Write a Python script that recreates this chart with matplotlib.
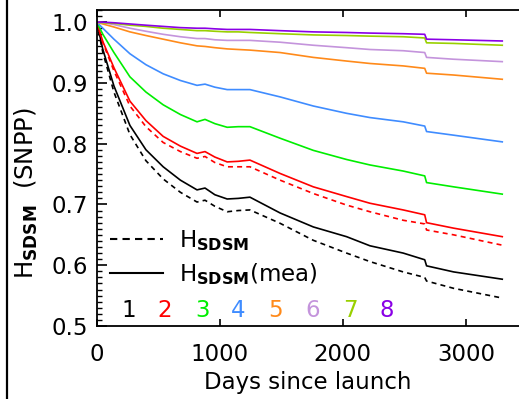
import matplotlib
matplotlib.use("Agg")
import matplotlib.pyplot as plt
from matplotlib.lines import Line2D
from matplotlib.ticker import MultipleLocator, FixedLocator

plt.rcParams['font.family'] = ['DejaVu Sans']
plt.rcParams['mathtext.fontset'] = 'dejavusans'

days = [0, 50, 140, 270, 400, 540, 680, 815, 880, 960, 1060, 1150, 1245,
        1490, 1760, 2030, 2220, 2490, 2665, 2680, 2900, 3295]

b1_mea = [1.0, 0.955, 0.895, 0.830, 0.790, 0.762, 0.740, 0.724, 0.727, 0.716, 0.709, 0.710, 0.712,
          0.686, 0.663, 0.647, 0.632, 0.620, 0.609, 0.599, 0.589, 0.577]
b1_sdsm = [1.0, 0.950, 0.885, 0.815, 0.772, 0.742, 0.720, 0.704, 0.707, 0.697, 0.688, 0.690, 0.691,
           0.669, 0.641, 0.620, 0.606, 0.589, 0.580, 0.574, 0.562, 0.546]
b2_mea = [1.0, 0.968, 0.925, 0.870, 0.838, 0.812, 0.796, 0.784, 0.787, 0.778, 0.770, 0.771, 0.773,
          0.751, 0.729, 0.713, 0.702, 0.691, 0.683, 0.670, 0.661, 0.647]
b2_sdsm = [1.0, 0.966, 0.920, 0.862, 0.828, 0.802, 0.787, 0.776, 0.779, 0.769, 0.762, 0.762, 0.762,
           0.740, 0.718, 0.699, 0.688, 0.674, 0.668, 0.658, 0.650, 0.633]
b3 = [1.0, 0.980, 0.950, 0.910, 0.885, 0.864, 0.848, 0.836, 0.840, 0.833, 0.827, 0.828, 0.828,
      0.809, 0.789, 0.774, 0.765, 0.755, 0.747, 0.736, 0.729, 0.717]
b4 = [1.0, 0.990, 0.972, 0.948, 0.930, 0.915, 0.904, 0.896, 0.898, 0.893, 0.889, 0.889, 0.889,
      0.877, 0.862, 0.850, 0.843, 0.836, 0.829, 0.820, 0.814, 0.803]
b5 = [1.0, 0.997, 0.992, 0.984, 0.978, 0.972, 0.966, 0.961, 0.960, 0.958, 0.956, 0.955, 0.954,
      0.950, 0.942, 0.936, 0.932, 0.928, 0.924, 0.916, 0.913, 0.906]
b6 = [1.0, 0.999, 0.996, 0.990, 0.985, 0.980, 0.976, 0.973, 0.973, 0.971, 0.970, 0.970, 0.970,
      0.967, 0.962, 0.958, 0.955, 0.953, 0.950, 0.942, 0.939, 0.935]
b7 = [1.0, 0.999, 0.998, 0.995, 0.993, 0.990, 0.988, 0.986, 0.986, 0.985, 0.984, 0.984, 0.983,
      0.981, 0.979, 0.978, 0.977, 0.976, 0.974, 0.966, 0.965, 0.962]
b8 = [1.0, 1.0, 0.999, 0.997, 0.995, 0.993, 0.991, 0.990, 0.990, 0.989, 0.988, 0.988, 0.988,
      0.986, 0.984, 0.983, 0.982, 0.981, 0.980, 0.972, 0.971, 0.969]

band_labels = ['1', '2', '3', '4', '5', '6', '7', '8']
colors = ['#000000', '#ff0000', '#00ee00', '#3f8cff', '#ff8a1a', '#c494dc', '#99d000', '#8a00e6']

FS = 16.5
fig = plt.figure(figsize=(5.19, 3.99), dpi=100)
ax = fig.add_axes([96.7/519, 1-326/399, 1-96.7/519, (326-10)/399])

lw = 1.2
ax.plot(days, b1_sdsm, color=colors[0], lw=lw, ls=(0, (3, 2.5)))
ax.plot(days, b1_mea, color=colors[0], lw=lw)
ax.plot(days, b2_sdsm, color=colors[1], lw=lw, ls=(0, (3, 2.5)))
ax.plot(days, b2_mea, color=colors[1], lw=lw)
for vals, c in zip([b3, b4, b5, b6, b7, b8], colors[2:]):
    ax.plot(days, vals, color=c, lw=lw)

ax.set_xlim(0, 3431)
ax.set_ylim(0.5, 1.02)
ax.spines['right'].set_visible(False)
for s in ['left', 'bottom', 'top']:
    ax.spines[s].set_linewidth(1.3)

ax.xaxis.set_major_locator(FixedLocator([0, 1000, 2000, 3000]))
ax.yaxis.set_major_locator(MultipleLocator(0.1))
ax.yaxis.set_minor_locator(MultipleLocator(0.01))
ax.yaxis.set_major_formatter(matplotlib.ticker.FormatStrFormatter('%.1f'))
ax.tick_params(axis='x', which='major', direction='in', length=5, width=1.2,
               top=True, labelsize=FS, pad=12)
ax.tick_params(axis='y', which='major', direction='in', length=7, width=1.2,
               right=False, labelsize=FS, pad=6)
ax.tick_params(axis='y', which='minor', direction='in', length=3.5, width=1.0, right=False)

ax.set_xlabel('Days since launch', fontsize=FS, labelpad=4)
ax.set_ylabel(r'H$_{\mathbf{SDSM}}$  (SNPP)', fontsize=FS + 1)
ax.yaxis.set_label_coords(-0.135, 0.42)

handles = [Line2D([], [], color='k', lw=1.5, ls=(0, (3.5, 2.5))),
           Line2D([], [], color='k', lw=1.5)]
leg = ax.legend(handles, [r'H$_{\mathbf{SDSM}}$', r'H$_{\mathbf{SDSM}}$(mea)'],
                loc='lower left', bbox_to_anchor=(0.0, 0.08), frameon=False,
                fontsize=FS, handlelength=2.3, handletextpad=0.7, labelspacing=0.35,
                borderaxespad=0.2)

xs = [128.3, 165, 202.7, 238.3, 275, 312.7, 350, 386.7]
for lab, c, px in zip(band_labels, colors, xs):
    ax.text((px-96.7)/(519-96.7), 0.05, lab, color=c, fontsize=FS,
            transform=ax.transAxes, ha='center', va='center')

fig.add_artist(Line2D([7/519, 7/519], [0, 1], color='k', lw=1.6, transform=fig.transFigure))

fig.savefig('out.png', dpi=100)
